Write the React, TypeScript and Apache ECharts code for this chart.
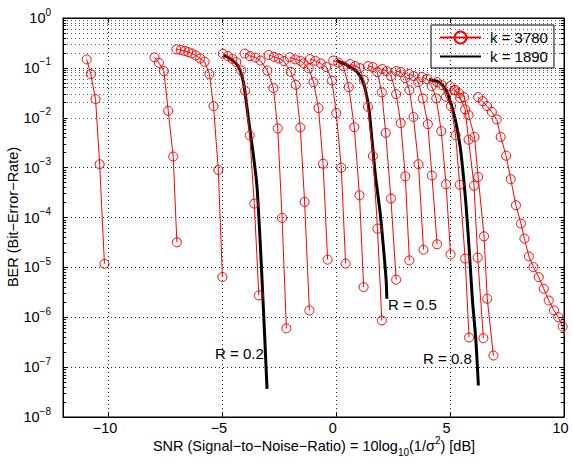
import React, { useEffect, useRef } from 'react';
import * as echarts from 'echarts';

const FONT = '"Liberation Sans", Arial, Helvetica, sans-serif';

const xTickValues = [-10, -5, 0, 5, 10];
const xGridValues = [-10, -5, 0, 5];
const yMinExp = -8;
const yMaxExp = 0;

// k = 3780 curves (SNR dB, BER)
const red01: [number, number][] = [[-10.96, 0.148], [-10.78, 0.075], [-10.57, 0.0236], [-10.39, 1.17e-3], [-10.18, 1.18e-5]];
const red02: [number, number][] = [[-7.98, 0.1625], [-7.79, 0.1265], [-7.57, 0.0863], [-7.38, 0.01377], [-7.16, 1.67e-3], [-7.0, 3.18e-5]];
const red03: [number, number][] = [[-7.02, 0.235], [-6.83, 0.2275], [-6.65, 0.2173], [-6.5, 0.2075], [-6.35, 0.1955], [-6.17, 0.178], [-5.98, 0.155], [-5.78, 0.1327], [-5.57, 0.0751], [-5.39, 0.0171], [-5.18, 9.0e-4], [-5.0, 6.4e-6]];
const red04: [number, number][] = [[-4.98, 0.192], [-4.76, 0.1726], [-4.56, 0.1517], [-4.39, 0.1306], [-4.17, 0.0891], [-4.0, 0.0347], [-3.8, 4.41e-3], [-3.6, 1.9e-4], [-3.4, 2.74e-6]];
const red05: [number, number][] = [[-4.02, 0.1936], [-3.79, 0.1726], [-3.55, 0.161], [-3.33, 0.1403], [-3.03, 0.0883], [-2.76, 0.0393], [-2.57, 6.1e-3], [-2.38, 9.8e-5], [-2.19, 6.0e-7]];
const red06: [number, number][] = [[-2.97, 0.1807], [-2.74, 0.167], [-2.52, 0.1538], [-2.3, 0.137], [-2.0, 0.0835], [-1.78, 0.0458], [-1.58, 6.38e-3], [-1.39, 2.05e-4], [-1.18, 1.37e-6]];
const red07: [number, number][] = [[-2.04, 0.1625], [-1.8, 0.148], [-1.58, 0.139], [-1.43, 0.123], [-1.21, 0.0977], [-1.0, 0.0519], [-0.78, 0.0156], [-0.58, 1.2e-3], [-0.38, 1.43e-5]];
const red08: [number, number][] = [[-1.16, 0.15], [-0.92, 0.139], [-0.68, 0.123], [-0.44, 0.1038], [-0.19, 0.0556], [0.0, 0.01237], [0.22, 9.95e-4], [0.41, 1.19e-5]];
const red09: [number, number][] = [[-0.13, 0.14], [0.09, 0.1277], [0.31, 0.1086], [0.55, 0.0411], [0.79, 6.47e-3], [1.02, 2.79e-4], [1.2, 4.03e-6]];
const red10: [number, number][] = [[0.61, 0.119], [0.83, 0.1086], [1.03, 0.099], [1.21, 0.0569], [1.39, 0.01655], [1.61, 1.72e-3], [1.81, 5.98e-5], [2.0, 8.63e-7]];
const red11: [number, number][] = [[1.4, 0.1086], [1.6, 0.1038], [1.8, 0.0824], [2.0, 0.0322], [2.17, 4.98e-3], [2.4, 2.4e-4], [2.63, 5.66e-6]];
const red12: [number, number][] = [[2.02, 0.0946], [2.21, 0.0863], [2.41, 0.0684], [2.63, 0.0298], [2.83, 7.8e-3], [3.03, 6.71e-4], [3.21, 1.38e-5]];
const red13: [number, number][] = [[2.63, 0.0863], [2.83, 0.0824], [3.03, 0.0624], [3.21, 0.0358], [3.39, 0.0104], [3.61, 1.17e-3], [3.83, 2.26e-5]];
const red14: [number, number][] = [[3.2, 0.0752], [3.4, 0.0684], [3.6, 0.0519], [3.8, 0.0244], [4.02, 7.43e-3], [4.2, 6.93e-4], [4.43, 2.9e-5]];
const red15: [number, number][] = [[3.77, 0.0653], [3.99, 0.0596], [4.19, 0.0431], [4.39, 0.0244], [4.61, 5.38e-3], [4.82, 4.64e-4], [5.02, 1.82e-5]];
const red16: [number, number][] = [[4.43, 0.0519], [4.63, 0.0452], [4.82, 0.0263], [5.04, 0.0171], [5.24, 4.48e-3], [5.42, 4.54e-4], [5.66, 1.5e-5], [5.83, 3.93e-7]];
const red17: [number, number][] = [[5.0, 0.0431], [5.22, 0.0358], [5.44, 0.0248], [5.66, 0.0147], [5.81, 3.63e-3], [6.05, 4.33e-4], [6.21, 1.57e-5], [6.46, 3.8e-7]];
const red18: [number, number][] = [[5.18, 0.0358], [5.39, 0.0312], [5.61, 0.0259], [5.81, 0.01127], [6.07, 4.13e-3], [6.23, 6.5e-4], [6.49, 4.19e-5], [6.63, 2.35e-6], [6.9, 1.71e-7]];
const red19: [number, number][] = [[6.23, 0.0259], [6.43, 0.0215], [6.62, 0.0171], [6.83, 0.0131], [7.05, 9.25e-3], [7.22, 4.13e-3], [7.46, 1.73e-3], [7.66, 5.85e-4], [7.89, 1.76e-4], [8.11, 7.55e-5], [8.26, 3.77e-5], [8.46, 1.66e-5], [8.66, 1.01e-5], [8.89, 6.38e-6], [9.11, 3.73e-6], [9.33, 2.17e-6], [9.56, 1.37e-6], [9.75, 1.0e-6], [9.94, 6.53e-7], [10.09, 3.98e-7]];

const redCurves = [red01, red02, red03, red04, red05, red06, red07, red08, red09, red10, red11, red12, red13, red14, red15, red16, red17, red18, red19];

// k = 1890 curves
const blackR02: [number, number][] = [[-4.94, 0.181], [-4.57, 0.1435], [-4.29, 0.105], [-4.07, 0.0495], [-3.85, 8.95e-3], [-3.63, 1.64e-3], [-3.48, 4.09e-4], [-3.33, 2.56e-5], [-3.19, 1.19e-6], [-3.04, 3.66e-8]];
const blackR05: [number, number][] = [[0.03, 0.139], [0.47, 0.1138], [0.91, 0.0835], [1.2, 0.0488], [1.42, 0.01655], [1.57, 3.55e-3], [1.71, 7.6e-4], [1.93, 1.2e-4], [2.07, 2.56e-5], [2.19, 5.48e-6], [2.22, 2.35e-6]];
const blackR08: [number, number][] = [[4.08, 0.0582], [4.5, 0.0519], [4.82, 0.0358], [5.07, 0.0171], [5.24, 8.55e-3], [5.46, 2.23e-3], [5.68, 2.21e-4], [5.83, 2.56e-5], [5.98, 2.17e-6], [6.13, 3.42e-7], [6.24, 4.28e-8]];
const blackCurves = [blackR02, blackR05, blackR08];

const legendNames = ['k = 3780', 'k = 1890'];
const rateLabels = ['R = 0.2', 'R = 0.5', 'R = 0.8'];
const xTitle = 'SNR (Signal\u2212to\u2212Noise\u2212Ratio) = 10log{sub|10}(1/\u03c3{sup|2}) [dB]';
const yTitle = 'BER (Bit\u2212Error\u2212Rate)';

const minus = (n: number) => (n < 0 ? '\u2212' + String(-n) : String(n));

export default function App() {
  const ref = useRef<HTMLDivElement>(null);
  useEffect(() => {
    if (!ref.current) return;
    const chart = echarts.init(ref.current, null, { renderer: 'svg' });

    const minorValues: number[] = [];
    for (let e = yMinExp; e < yMaxExp; e++) {
      for (let m = 2; m <= 9; m++) minorValues.push(m * Math.pow(10, e));
    }

    const series: any[] = [];
    series.push({
      type: 'line',
      name: 'grid-helper',
      data: [],
      z: 1,
      silent: true,
      markLine: {
        silent: true,
        animation: false,
        symbol: ['none', 'none'],
        label: { show: false },
        emphasis: { disabled: true },
        data: [
          ...minorValues.map((v) => ({ yAxis: v, lineStyle: { color: '#5a5a5a', type: [1, 3], width: 1 } })),
          ...xGridValues.map((v) => ({ xAxis: v, lineStyle: { color: '#222', type: [1, 3], width: 1 } })),
          ...minorValues.map((v) => [
            { coord: [-12, v], lineStyle: { color: '#000', type: 'solid', width: 1 } },
            { coord: [-11.86, v] },
          ]),
          ...minorValues.map((v) => [
            { coord: [10, v], lineStyle: { color: '#000', type: 'solid', width: 1 } },
            { coord: [9.86, v] },
          ]),
        ],
      },
    });

    blackCurves.forEach((d) => {
      series.push({
        type: 'line',
        name: legendNames[1],
        data: d,
        symbol: 'none',
        smooth: 0.25,
        lineStyle: { color: '#000', width: 3 },
        itemStyle: { color: 'rgba(0,0,0,0)' },
        z: 2,
      });
    });

    redCurves.forEach((d) => {
      series.push({
        type: 'line',
        name: legendNames[0],
        data: d,
        symbol: 'circle',
        symbolSize: 9,
        showSymbol: true,
        lineStyle: { color: '#ff0000', width: 1 },
        itemStyle: { color: 'rgba(255,255,255,0)', borderColor: '#ff0000', borderWidth: 1 },
        z: 3,
      });
    });

    const yLabel = (v: number) => {
      const e = Math.round(Math.log10(v));
      return '{b|10}{s|' + minus(e) + '}';
    };

    const option: any = {
      animation: false,
      backgroundColor: '#fff',
      textStyle: { fontFamily: FONT },
      grid: { left: 63, right: 9, top: 18, bottom: 49, show: true, borderColor: '#000', borderWidth: 1, backgroundColor: '#fff', containLabel: false, outerBoundsMode: 'none' },
      legend: {
        data: legendNames,
        orient: 'vertical',
        left: 431,
        top: 25,
        itemWidth: 41,
        itemHeight: 15,
        itemGap: 4,
        padding: [5, 6, 4, 8],
        borderColor: '#000',
        borderWidth: 1,
        backgroundColor: '#fff',
        selectedMode: false,
        textStyle: { fontFamily: FONT, fontSize: 15, color: '#000', padding: [0, 0, 0, 4] },
      },
      xAxis: [
        {
          type: 'value',
          min: -12,
          max: 10,
          position: 'bottom',
          axisLine: { show: true, onZero: false, lineStyle: { color: '#000' } },
          axisTick: { show: true, inside: true, length: 5, customValues: xTickValues, lineStyle: { color: '#000' } },
          axisLabel: { customValues: xTickValues, formatter: (v: number) => minus(v), fontFamily: FONT, fontSize: 14.5, color: '#000', margin: 3, padding: [0, 7, 0, 0] },
          splitLine: { show: false },
        },
        {
          type: 'value',
          min: -12,
          max: 10,
          position: 'top',
          axisLine: { show: true, onZero: false, lineStyle: { color: '#000' } },
          axisTick: { show: true, inside: true, length: 5, customValues: xTickValues, lineStyle: { color: '#000' } },
          axisLabel: { show: false },
          splitLine: { show: false },
        },
      ],
      yAxis: [
        {
          type: 'log',
          logBase: 10,
          min: Math.pow(10, yMinExp),
          max: Math.pow(10, yMaxExp),
          splitNumber: 8,
          position: 'left',
          axisLine: { show: true, onZero: false, lineStyle: { color: '#000' } },
          axisTick: { show: true, inside: true, length: 5, lineStyle: { color: '#000' } },
          axisLabel: {
            formatter: yLabel,
            margin: 12,
            rich: {
              b: { fontFamily: FONT, fontSize: 14.5, color: '#000', lineHeight: 22 },
              s: { fontFamily: FONT, fontSize: 10, color: '#000', verticalAlign: 'top', lineHeight: 12 },
            },
          },
          splitLine: { show: true, lineStyle: { color: '#222', type: [1, 3], width: 1 } },
        },
        {
          type: 'log',
          logBase: 10,
          min: Math.pow(10, yMinExp),
          max: Math.pow(10, yMaxExp),
          splitNumber: 8,
          position: 'right',
          axisLine: { show: true, onZero: false, lineStyle: { color: '#000' } },
          axisTick: { show: true, inside: true, length: 5, lineStyle: { color: '#000' } },
          axisLabel: { show: false },
          splitLine: { show: false },
        },
      ],
      graphic: [
        { type: 'text', left: 215, top: 346, style: { text: rateLabels[0], fontFamily: FONT, fontSize: 15, fill: '#000' }, z: 10 },
        { type: 'text', left: 388, top: 297, style: { text: rateLabels[1], fontFamily: FONT, fontSize: 15, fill: '#000' }, z: 10 },
        { type: 'text', left: 423, top: 351, style: { text: rateLabels[2], fontFamily: FONT, fontSize: 15, fill: '#000' }, z: 10 },
        {
          type: 'text',
          x: 13,
          y: 217,
          rotation: Math.PI / 2,
          style: { text: yTitle, fontFamily: FONT, fontSize: 14.5, fill: '#000', align: 'center', verticalAlign: 'middle' },
          z: 10,
        },
        {
          type: 'text',
          x: 314,
          y: 446,
          style: {
            text: xTitle,
            fontFamily: FONT,
            fontSize: 14.5,
            fill: '#000',
            align: 'center',
            verticalAlign: 'middle',
            lineHeight: 22,
            rich: {
              sub: { fontFamily: FONT, fontSize: 10, fill: '#000', verticalAlign: 'bottom', lineHeight: 10 },
              sup: { fontFamily: FONT, fontSize: 10, fill: '#000', verticalAlign: 'top', lineHeight: 10 },
            },
          },
          z: 10,
        },
      ],
      series,
    };

    chart.setOption(option);
    return () => chart.dispose();
  }, []);

  return <div ref={ref} style={{ position: 'fixed', left: 0, top: 0, width: 573, height: 466 }} />;
}
